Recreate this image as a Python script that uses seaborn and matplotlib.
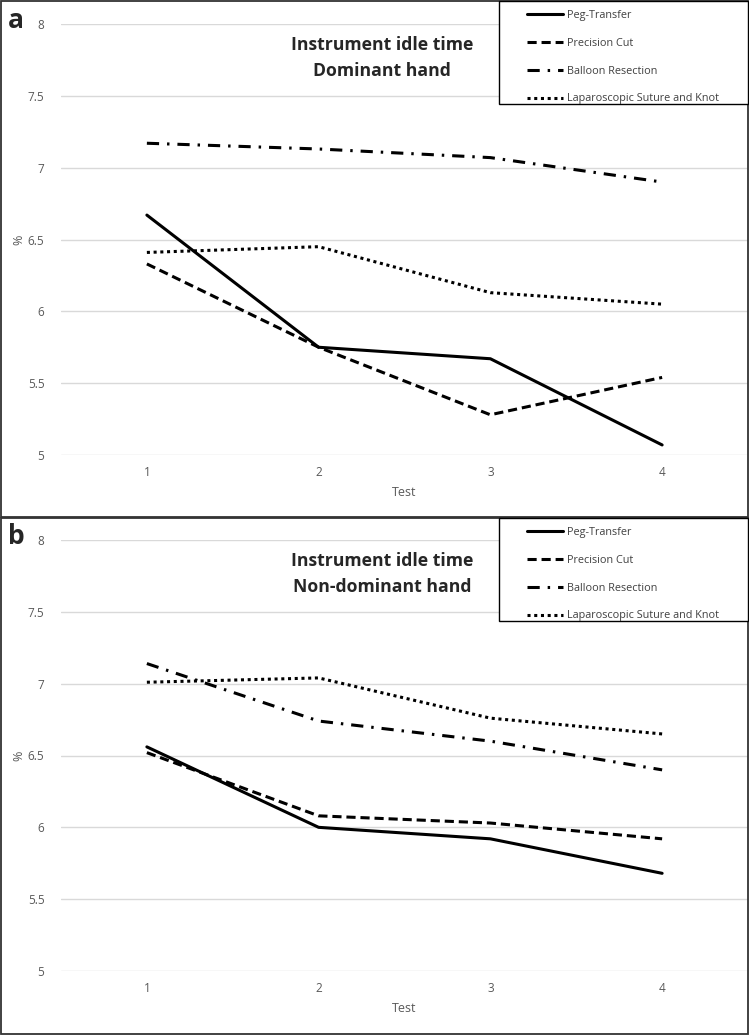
import matplotlib
matplotlib.use("Agg")
import matplotlib.pyplot as plt
import seaborn as sns
import pandas as pd
from matplotlib.patches import Rectangle

tests = [1, 2, 3, 4]
tasks = ["Peg-Transfer", "Precision Cut", "Balloon Resection", "Laparoscopic Suture and Knot"]

dominant_peg = [6.67, 5.75, 5.67, 5.07]
dominant_cut = [6.33, 5.75, 5.28, 5.54]
dominant_balloon = [7.17, 7.13, 7.07, 6.90]
dominant_suture = [6.41, 6.45, 6.13, 6.05]

nondominant_peg = [6.56, 6.00, 5.92, 5.68]
nondominant_cut = [6.52, 6.08, 6.03, 5.92]
nondominant_balloon = [7.14, 6.74, 6.60, 6.40]
nondominant_suture = [7.01, 7.04, 6.76, 6.65]

panels = [
    ("a", "Instrument idle time\nDominant hand",
     [dominant_peg, dominant_cut, dominant_balloon, dominant_suture]),
    ("b", "Instrument idle time\nNon-dominant hand",
     [nondominant_peg, nondominant_cut, nondominant_balloon, nondominant_suture]),
]

dash_styles = {
    "Peg-Transfer": "",
    "Precision Cut": (3.0, 1.6),
    "Balloon Resection": (4.0, 2.6, 0.8, 2.6),
    "Laparoscopic Suture and Knot": (1, 1.2),
}


def to_frame(series):
    rows = []
    for task, values in zip(tasks, series):
        for t, v in zip(tests, values):
            rows.append({"Test": t, "value": v, "task": task})
    return pd.DataFrame(rows)


def main():
    sns.set_style("white")
    plt.rcParams["font.family"] = ["Open Sans", "DejaVu Sans"]

    W, H = 749, 1036
    fig = plt.figure(figsize=(W / 100, H / 100), dpi=100)

    # panel geometry in pixels: (box top, axes top, axes bottom)
    geo = [(1, 24, 455), (518, 540, 971)]

    for (letter, title, series), (box_top, ax_top, ax_bot) in zip(panels, geo):
        box_h = 516
        fig.patches.append(Rectangle((1 / W, 1 - (box_top + box_h) / H), 747 / W, box_h / H,
                                     transform=fig.transFigure, fill=False,
                                     edgecolor="#333333", linewidth=1.3))

        ax = fig.add_axes([61 / W, 1 - ax_bot / H, 687 / W, (ax_bot - ax_top) / H])
        df = to_frame(series)
        sns.lineplot(data=df, x="Test", y="value", hue="task", style="task",
                     palette=["black"] * 4, dashes=dash_styles, linewidth=2.2,
                     ax=ax, legend=False)

        ax.set_xlim(0.5, 4.5)
        ax.set_ylim(5, 8)
        ax.set_xticks(tests)
        ax.set_yticks([5, 5.5, 6, 6.5, 7, 7.5, 8])
        ax.set_yticklabels(["5", "5.5", "6", "6.5", "7", "7.5", "8"])
        ax.grid(axis="y", color="#d9d9d9", linewidth=1)
        ax.set_axisbelow(True)
        for s in ax.spines.values():
            s.set_visible(False)
        ax.tick_params(colors="#595959", labelsize=8.5, length=0)
        ax.tick_params(axis="y", pad=12)
        ax.tick_params(axis="x", pad=8)
        ax.set_xlabel("Test", color="#595959", fontsize=9, labelpad=5)
        ax.set_ylabel("%", color="#595959", fontsize=9, labelpad=2)

        ax.text(0.467, 0.972, title, transform=ax.transAxes, ha="center", va="top",
                fontsize=12.7, fontweight="bold", linespacing=1.6)

        fig.text(8 / W, 1 - (box_top + 19) / H, letter, fontsize=19, fontweight="bold",
                 va="center", ha="left")

        # legend box
        fig.patches.append(Rectangle((499 / W, 1 - (box_top + 103) / H), 249 / W, 103 / H,
                                     transform=fig.transFigure, fill=True, facecolor="white",
                                     edgecolor="black", linewidth=1, zorder=5))
        handles = []
        for task in tasks:
            ln, = ax.plot([], [], color="black", linewidth=2.2)
            if dash_styles[task]:
                ln.set_dashes(dash_styles[task])
            handles.append(ln)
        leg = fig.legend(handles, tasks, loc="upper left",
                         bbox_to_anchor=(527 / W, 1 - (box_top + 9) / H),
                         bbox_transform=fig.transFigure, frameon=False,
                         fontsize=7.8, handlelength=3.3, handletextpad=0.4,
                         labelspacing=1.55, borderpad=0, borderaxespad=0)
        leg.set_zorder(6)
        for t in leg.get_texts():
            t.set_color("#404040")

    fig.savefig("out.png", dpi=100)
    plt.close(fig)


if __name__ == "__main__":
    main()
